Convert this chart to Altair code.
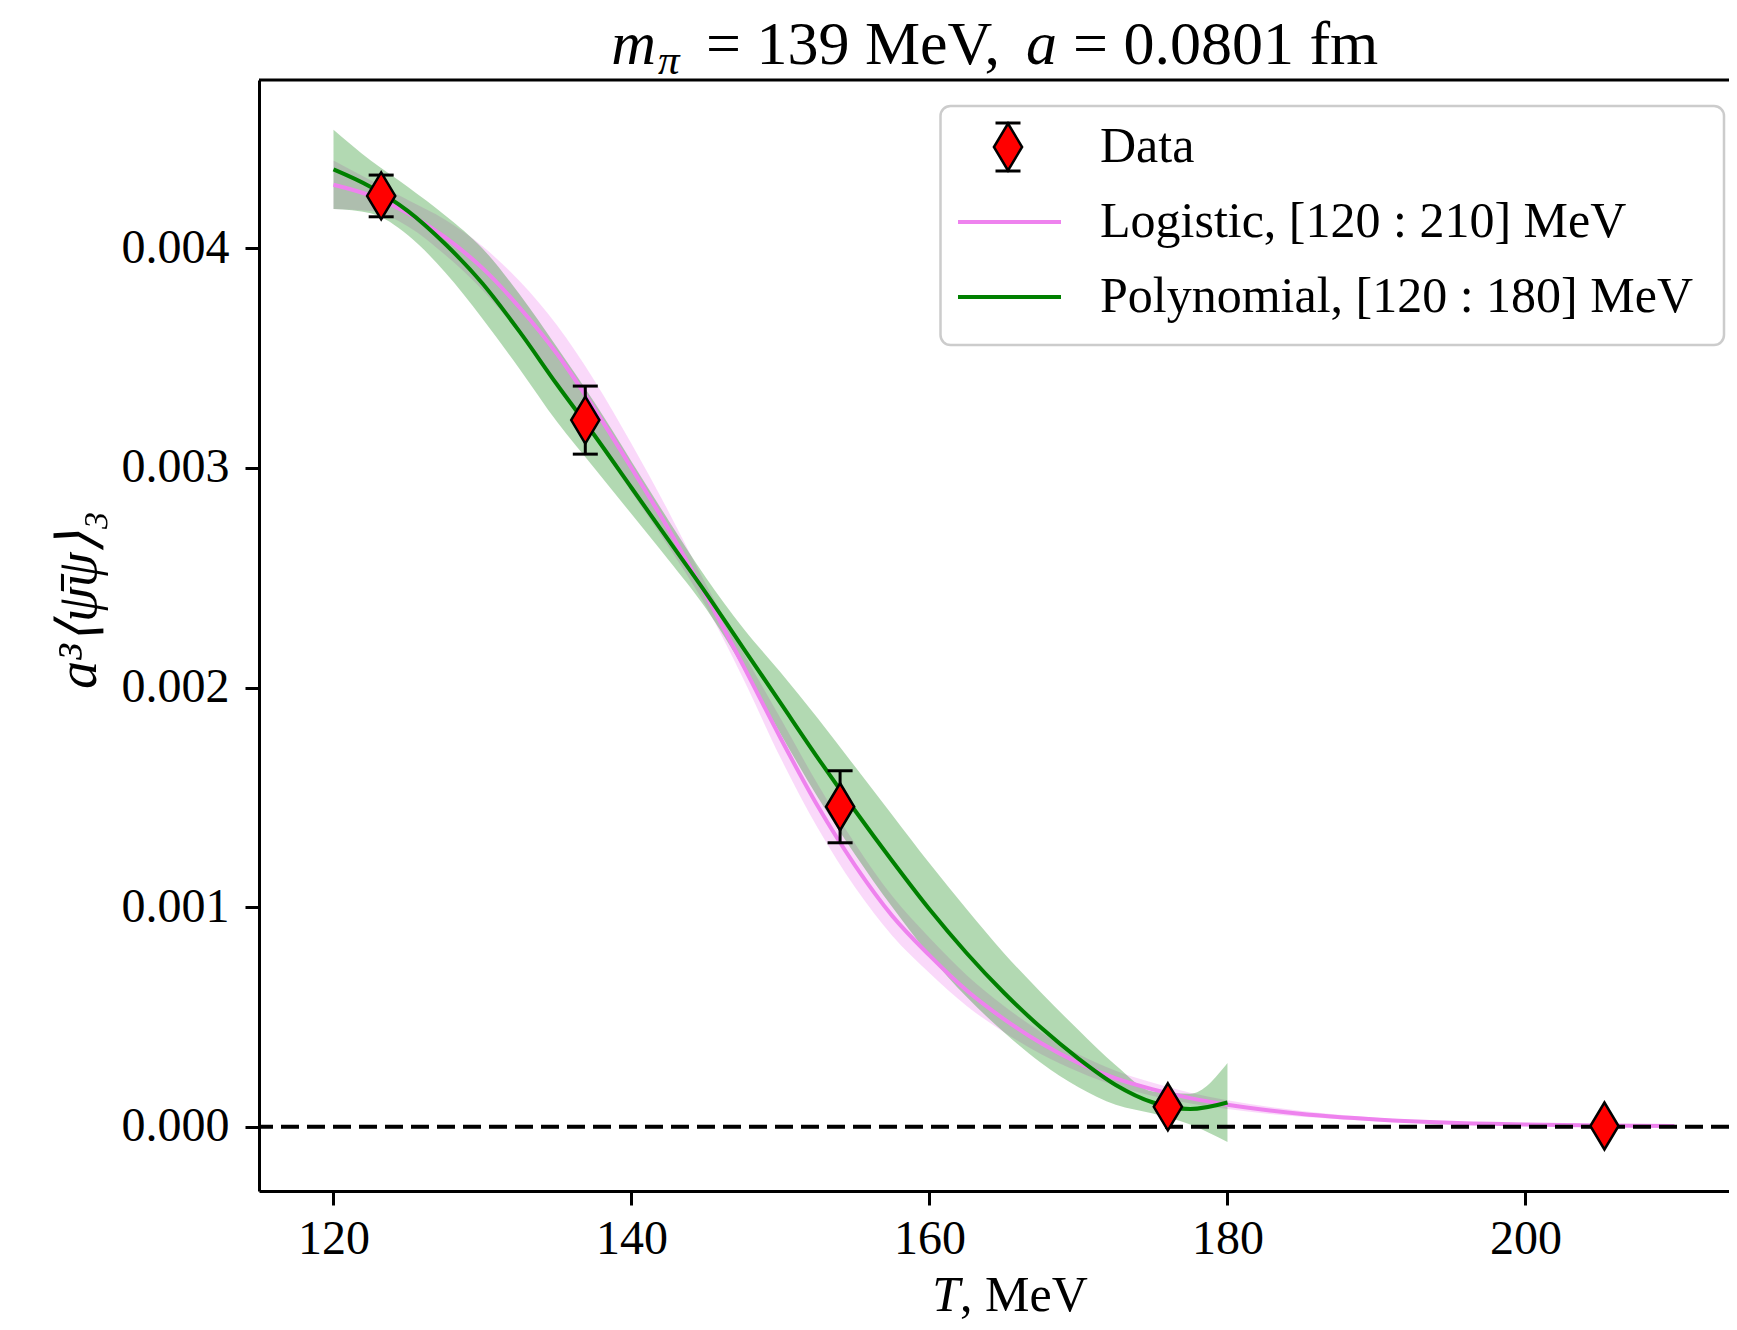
import altair as alt
import pandas as pd

# ---------------- data ----------------
T_data = [123.2, 136.9, 154.0, 176.0, 205.3]
y_data = [0.004239, 0.003218, 0.001457, 0.0000906, 0.000003]
y_err = [0.000095, 0.000155, 0.000164, 0.000008, 0.000005]

T_poly = [120, 122.5, 125, 127.5, 130, 132.5, 135, 137.5, 140, 142.5, 145, 147.5,
          150, 152.5, 155, 157.5, 160, 162.5, 165, 167.5, 170, 172.5, 175, 177.5, 180]
poly_mid = [0.00436, 0.00428, 0.00417, 0.00402, 0.00384, 0.00362, 0.00338, 0.00315,
            0.00291, 0.00267, 0.00243, 0.00218, 0.00193, 0.00168, 0.00144, 0.00121,
            0.00099, 0.00079, 0.00061, 0.00045, 0.00031, 0.00019, 0.00011, 0.00008, 0.00011]
poly_hw = [0.00018, 0.00012, 0.00011, 0.00013, 0.00016, 0.00017, 0.00017, 0.00015,
           0.00012, 0.00009, 0.00007, 0.00009, 0.00014, 0.00018, 0.00020, 0.00021,
           0.00021, 0.00020, 0.00018, 0.00016, 0.00013, 0.00009, 0.00005, 0.00007, 0.00018]

T_log = [120, 122.5, 125, 127.5, 130, 132.5, 135, 137.5, 140, 142.5, 145, 147.5,
         150, 152.5, 155, 157.5, 160, 162.5, 165, 167.5, 170, 172.5, 175, 177.5, 180,
         185, 190, 195, 200, 205, 210]
log_mid = [0.00429, 0.00424, 0.00416, 0.00405, 0.00391, 0.00373, 0.00352, 0.00327,
           0.00300, 0.00272, 0.00242, 0.00210, 0.00177, 0.00146, 0.00119, 0.00096,
           0.00078, 0.00062, 0.00049, 0.00038, 0.00029, 0.00022, 0.00017, 0.00013, 0.00010,
           0.000058, 0.000033, 0.000018, 0.000010, 0.0000055, 0.000003]
log_hw = [0.00011, 0.00007, 0.00006, 0.00008, 0.00010, 0.00012, 0.00013, 0.00013,
          0.00011, 0.00008, 0.00005, 0.00006, 0.00009, 0.00010, 0.00010, 0.00009,
          0.00008, 0.00007, 0.00006, 0.00005, 0.00004, 0.000035, 0.00003, 0.000025, 0.00002,
          0.000013, 0.000008, 0.000005, 0.000003, 0.000002, 0.000001]

x_ticks = [120, 140, 160, 180, 200]
y_ticks = [0.0, 0.001, 0.002, 0.003, 0.004]

legend_labels = ["Data", "Logistic, [120 : 210] MeV", "Polynomial, [120 : 180] MeV"]
title_parts = ["m", "\u03c0", "= 139 MeV,", "a", "= 0.0801 fm"]
x_title_parts = ["T", ", MeV"]
y_title = "a³⟨ψ̄ψ⟩₃"

# ---------------- tables ----------------
pts = pd.DataFrame({"T": T_data, "y": y_data, "err": y_err})
pts["lo"] = pts["y"] - pts["err"]
pts["hi"] = pts["y"] + pts["err"]

poly = pd.DataFrame({"T": T_poly, "mid": poly_mid, "hw": poly_hw})
poly["lo"] = poly["mid"] - poly["hw"]
poly["hi"] = poly["mid"] + poly["hw"]

logi = pd.DataFrame({"T": T_log, "mid": log_mid, "hw": log_hw})
logi["lo"] = logi["mid"] - logi["hw"]
logi["hi"] = logi["mid"] + logi["hw"]

one = pd.DataFrame({"a": [0]})

# ---------------- layout ----------------
W, H = 1470, 1111
FONT = "Liberation Serif"
GREEN = "#008000"
VIOLET = "#ee82ee"
DIAMOND = "M0,-1L0.6,0L0,1L-0.6,0Z"

xscale = alt.Scale(domain=[115, 213.66], nice=False, zero=False)
yscale = alt.Scale(domain=[-0.000293, 0.004767], nice=False, zero=False)

xaxis = alt.Axis(values=x_ticks, format="d", title=None, grid=False,
                 labelFont=FONT, labelFontSize=48, labelColor="black",
                 labelPadding=10, tickSize=14, tickWidth=3, tickColor="black",
                 domainColor="black", domainWidth=3)
yaxis = alt.Axis(values=y_ticks, format=".3f", title=None, grid=False,
                 labelFont=FONT, labelFontSize=48, labelColor="black",
                 labelPadding=16, tickSize=14, tickWidth=3, tickColor="black",
                 domainColor="black", domainWidth=3)

X = alt.X("T:Q", scale=xscale, axis=xaxis)


def Y(field):
    return alt.Y(field, type="quantitative", scale=yscale, axis=yaxis)


log_band = alt.Chart(logi).mark_area(color=VIOLET, opacity=0.3, interpolate="monotone").encode(
    x=X, y=Y("lo"), y2="hi")
poly_band = alt.Chart(poly).mark_area(color=GREEN, opacity=0.3, interpolate="monotone").encode(
    x=X, y=Y("lo"), y2="hi")
log_line = alt.Chart(logi).mark_line(color=VIOLET, strokeWidth=4, interpolate="monotone").encode(
    x=X, y=Y("mid"))
poly_line = alt.Chart(poly).mark_line(color=GREEN, strokeWidth=4, interpolate="monotone").encode(
    x=X, y=Y("mid"))

zero = alt.Chart(one).mark_rule(color="black", strokeWidth=4, strokeDash=[18, 8]).encode(
    y=alt.datum(0.0, scale=yscale))

err_rule = alt.Chart(pts).mark_rule(color="black", strokeWidth=3).encode(
    x=X, y=Y("lo"), y2="hi")
cap_lo = alt.Chart(pts).mark_point(shape="stroke", size=625, color="black", strokeWidth=3,
                                   opacity=1).encode(x=X, y=Y("lo"))
cap_hi = alt.Chart(pts).mark_point(shape="stroke", size=625, color="black", strokeWidth=3,
                                   opacity=1).encode(x=X, y=Y("hi"))
diamonds = alt.Chart(pts).mark_point(shape=DIAMOND, size=2209, filled=True, fill="red",
                                     stroke="black", strokeWidth=2.5, opacity=1).encode(
    x=X, y=Y("y"))

# top frame line (right spine is cropped in the reference)
top_rule = alt.Chart(one).mark_rule(color="black", strokeWidth=3).encode(
    x=alt.value(0), x2=alt.value(W), y=alt.value(0))

# ---------------- legend ----------------
leg_box = alt.Chart(one).mark_rect(fill="white", fillOpacity=0.8, stroke="#cccccc",
                                   strokeWidth=2.5, cornerRadius=10).encode(
    x=alt.value(681.5), x2=alt.value(1465), y=alt.value(26), y2=alt.value(265))
leg_err = alt.Chart(one).mark_rule(color="black", strokeWidth=3).encode(
    x=alt.value(749), y=alt.value(43), y2=alt.value(91))
leg_cap1 = alt.Chart(one).mark_point(shape="stroke", size=625, color="black", strokeWidth=3,
                                     opacity=1).encode(x=alt.value(749), y=alt.value(43))
leg_cap2 = alt.Chart(one).mark_point(shape="stroke", size=625, color="black", strokeWidth=3,
                                     opacity=1).encode(x=alt.value(749), y=alt.value(91))
leg_dia = alt.Chart(one).mark_point(shape=DIAMOND, size=2209, filled=True, fill="red",
                                    stroke="black", strokeWidth=2.5, opacity=1).encode(
    x=alt.value(749), y=alt.value(67))
leg_l1 = alt.Chart(one).mark_rule(color=VIOLET, strokeWidth=4).encode(
    x=alt.value(699), x2=alt.value(802), y=alt.value(142))
leg_l2 = alt.Chart(one).mark_rule(color=GREEN, strokeWidth=4).encode(
    x=alt.value(699), x2=alt.value(802), y=alt.value(217))
leg_texts = [
    alt.Chart(one).mark_text(text=lab, font=FONT, fontSize=50, align="left",
                             baseline="middle", color="black").encode(
        x=alt.value(841), y=alt.value(yy))
    for lab, yy in zip(legend_labels, [67, 142, 217])
]

# ---------------- titles ----------------
TS = 62
TY = -16
t_m = alt.Chart(one).mark_text(text=title_parts[0], font=FONT, fontSize=TS, fontStyle="italic",
                               align="right", baseline="alphabetic", color="black").encode(
    x=alt.value(397), y=alt.value(TY))
t_pi = alt.Chart(one).mark_text(text=title_parts[1], font=FONT, fontSize=43, fontStyle="italic",
                                align="left", baseline="alphabetic", color="black").encode(
    x=alt.value(399), y=alt.value(TY + 10))
t_rest1 = alt.Chart(one).mark_text(text=title_parts[2], font=FONT, fontSize=TS,
                                   align="left", baseline="alphabetic", color="black").encode(
    x=alt.value(447), y=alt.value(TY))
t_a = alt.Chart(one).mark_text(text=title_parts[3], font=FONT, fontSize=TS, fontStyle="italic",
                               align="left", baseline="alphabetic", color="black").encode(
    x=alt.value(767), y=alt.value(TY))
t_rest2 = alt.Chart(one).mark_text(text=title_parts[4], font=FONT, fontSize=TS,
                                   align="left", baseline="alphabetic", color="black").encode(
    x=alt.value(814), y=alt.value(TY))

xt_T = alt.Chart(one).mark_text(text=x_title_parts[0], font=FONT, fontSize=50, fontStyle="italic",
                                align="right", baseline="middle", color="black").encode(
    x=alt.value(701), y=alt.value(1216))
xt_rest = alt.Chart(one).mark_text(text=x_title_parts[1], font=FONT, fontSize=50,
                                   align="left", baseline="middle", color="black").encode(
    x=alt.value(701), y=alt.value(1216))

yt = alt.Chart(one).mark_text(text=y_title, font=FONT, fontSize=56, fontStyle="italic",
                              angle=270, align="center", baseline="middle", color="black").encode(
    x=alt.value(-180), y=alt.value(520))

chart = alt.layer(
    log_band, poly_band, log_line, poly_line, zero,
    err_rule, cap_lo, cap_hi, diamonds, top_rule,
    leg_box, leg_err, leg_cap1, leg_cap2, leg_dia, leg_l1, leg_l2, *leg_texts,
    t_m, t_pi, t_rest1, t_a, t_rest2, xt_T, xt_rest, yt,
).properties(
    width=W, height=H,
    autosize=alt.AutoSizeParams(type="none"),
    padding={"left": 251, "top": 72, "right": 0, "bottom": 131},
).configure_view(stroke=None).configure(background="white")

chart.save("out.html", embed_options={"renderer": "svg", "actions": False})
